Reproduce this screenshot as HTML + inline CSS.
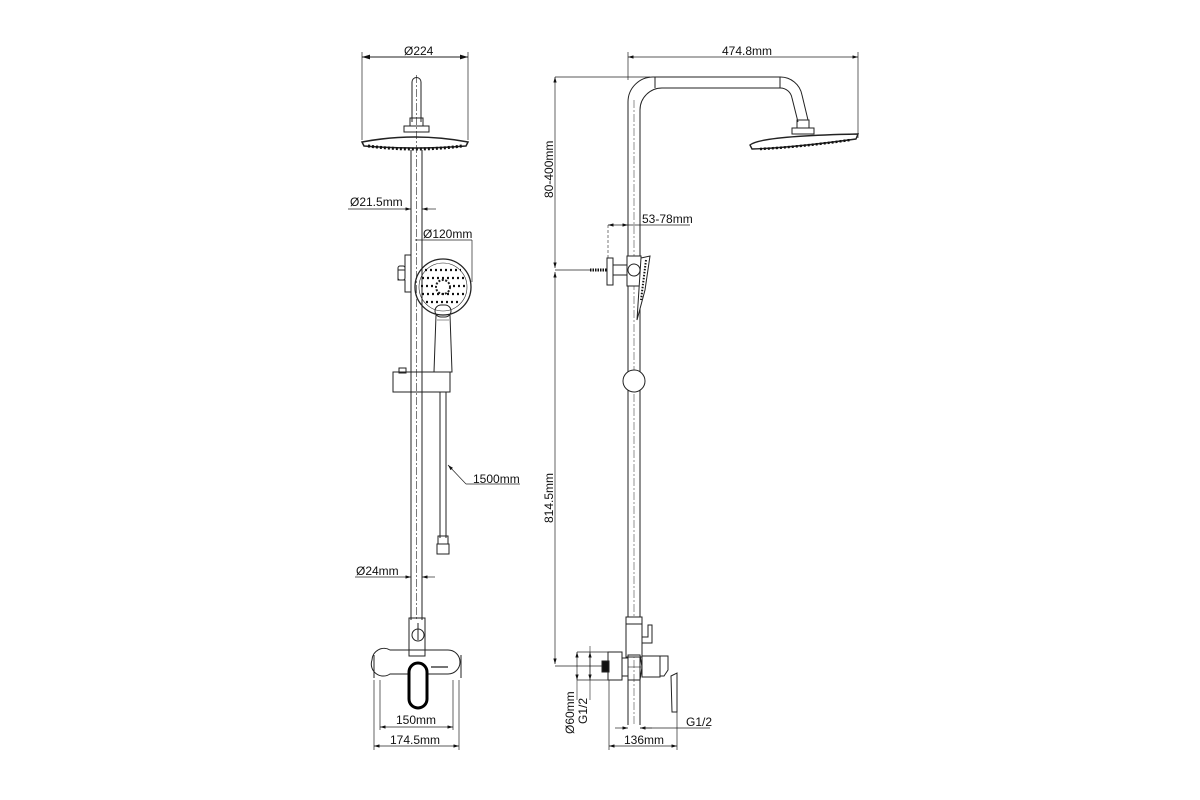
<!DOCTYPE html>
<html><head><meta charset="utf-8"><style>
html,body{margin:0;padding:0;background:#fff;width:1200px;height:800px;overflow:hidden}
svg text{font-family:"Liberation Sans",sans-serif;font-size:12px;fill:#111}
</style></head><body>
<svg width="1200" height="800" viewBox="0 0 1200 800" xmlns="http://www.w3.org/2000/svg">
<defs>
<marker id="a" viewBox="0 0 10 6" refX="10" refY="3" markerWidth="8" markerHeight="5" orient="auto-start-reverse"><path d="M0,0L10,3L0,6z" fill="#111"/></marker>
</defs>
<g fill="none" stroke="#222" stroke-width="1">
<line x1="362" y1="57" x2="468" y2="57" marker-start="url(#a)" marker-end="url(#a)"/>
<line x1="362" y1="52" x2="362" y2="140" stroke-width="0.7"/>
<line x1="468" y1="52" x2="468" y2="140" stroke-width="0.7"/>
<path d="M412,122 V82 a4.5,4.5 0 0 1 9,0 V122"/>
<rect x="410" y="118" width="13" height="8"/>
<rect x="404" y="126" width="25" height="6"/>
<path d="M362,142 Q415,132 468,142 L466,146 Q415,150 364,146 Z" stroke-width="1.5"/>
<path d="M368,146 Q415,152 462,146" stroke="#111" stroke-width="3" stroke-dasharray="2 2"/>
<line x1="416.5" y1="75" x2="416.5" y2="620" stroke-dasharray="8 2 2 2" stroke-width="0.6"/>
<line x1="411" y1="150" x2="411" y2="620"/>
<line x1="422" y1="150" x2="422" y2="620"/>
<line x1="348" y1="209" x2="411" y2="209" stroke-width="0.7" marker-end="url(#a)"/>
<line x1="436" y1="209" x2="422" y2="209" stroke-width="0.7" marker-end="url(#a)"/>
<line x1="415" y1="240" x2="472" y2="240" stroke-width="0.7"/>
<line x1="472" y1="240" x2="472" y2="282" stroke-width="0.7"/>
<path d="M411,255 H405 V270 H398 V280 H405 V292 H411"/>
<rect x="398" y="266" width="7" height="14" rx="2"/>
<circle cx="443" cy="287" r="28" stroke-width="1.3"/>
<circle cx="443" cy="287" r="24" stroke-width="0.6"/>
<circle cx="443" cy="287" r="7" stroke-width="2" stroke-dasharray="2 1.5"/>
<g stroke="#111" stroke-width="2.2" stroke-dasharray="2 3">
<line x1="425" y1="270" x2="461" y2="270"/><line x1="422" y1="278" x2="464" y2="278"/>
<line x1="421" y1="286" x2="433" y2="286"/><line x1="453" y1="286" x2="465" y2="286"/>
<line x1="422" y1="294" x2="464" y2="294"/><line x1="426" y1="302" x2="460" y2="302"/>
</g>
<rect x="435" y="305" width="16" height="12" rx="6"/>
<path d="M436,315 L434,372 H452 L450,315"/>
<line x1="437" y1="320" x2="449" y2="320" stroke-width="0.5"/>
<path d="M393,372 H450 V392 H393 Z"/>
<rect x="399" y="368" width="7" height="5"/>
<line x1="440" y1="392" x2="440" y2="538"/>
<line x1="446" y1="392" x2="446" y2="538"/>
<rect x="438" y="536" width="10" height="8"/>
<rect x="437" y="544" width="12" height="10"/>
<line x1="466" y1="484" x2="448" y2="465" stroke-width="0.7" marker-end="url(#a)"/>
<line x1="466" y1="484" x2="520" y2="484" stroke-width="0.7"/>
<line x1="355" y1="577" x2="411" y2="577" stroke-width="0.7" marker-end="url(#a)"/>
<line x1="435" y1="577" x2="422" y2="577" stroke-width="0.7" marker-end="url(#a)"/>
<rect x="409" y="618" width="16" height="38"/>
<circle cx="418" cy="635" r="6"/>
<line x1="418" y1="623" x2="418" y2="640"/>
<path d="M372,660 a12,12 0 0 1 18,-10 H448 a12,12 0 1 1 0,24 H390 a12,12 0 0 1 -18,-14 Z"/>
<line x1="374" y1="655" x2="374" y2="678"/><line x1="461" y1="655" x2="461" y2="678"/>
<line x1="431" y1="667" x2="448" y2="667" stroke-width="1.2"/>
<rect x="409" y="663" width="18" height="45" rx="9" stroke="#000" stroke-width="3" fill="#fff"/>
<line x1="380" y1="680" x2="380" y2="730" stroke-width="0.7"/>
<line x1="453" y1="680" x2="453" y2="730" stroke-width="0.7"/>
<line x1="380" y1="727" x2="453" y2="727" stroke-width="0.7" marker-start="url(#a)" marker-end="url(#a)"/>
<line x1="374" y1="680" x2="374" y2="750" stroke-width="0.7"/>
<line x1="459" y1="680" x2="459" y2="750" stroke-width="0.7"/>
<line x1="374" y1="746" x2="459" y2="746" stroke-width="0.7" marker-start="url(#a)" marker-end="url(#a)"/>

<line x1="628" y1="57" x2="858" y2="57" stroke-width="0.7" marker-start="url(#a)" marker-end="url(#a)"/>
<line x1="628" y1="52" x2="628" y2="80" stroke-width="0.7"/>
<line x1="858" y1="52" x2="858" y2="138" stroke-width="0.7"/>
<line x1="555" y1="77" x2="650" y2="77" stroke-width="0.7"/>
<path d="M628,725 V102 a25,25 0 0 1 25,-25 H780 a22,22 0 0 1 22,18 L808,120"/>
<path d="M640,725 V110 a22,22 0 0 1 22,-22 H780 a12,12 0 0 1 12,10 L798,122"/>
<line x1="655" y1="77" x2="655" y2="88"/><line x1="780" y1="77" x2="780" y2="88"/>
<line x1="634" y1="100" x2="634" y2="725" stroke-dasharray="8 2 2 2" stroke-width="0.5"/>
<rect x="797" y="120" width="12" height="8"/>
<rect x="792" y="128" width="22" height="6"/>
<path d="M750,145 Q760,136 858,134 L856,139 Q790,148 752,149 Z" stroke-width="1.4"/>
<path d="M760,149 Q800,147 850,140" stroke="#111" stroke-width="2.5" stroke-dasharray="2 2"/>
<line x1="555" y1="77" x2="555" y2="268" stroke-width="0.7" marker-start="url(#a)" marker-end="url(#a)"/>
<line x1="555" y1="272" x2="555" y2="664" stroke-width="0.7" marker-start="url(#a)" marker-end="url(#a)"/>
<line x1="555" y1="666" x2="603" y2="666" stroke-width="0.7"/>
<line x1="608" y1="225" x2="628" y2="225" stroke-width="0.7" marker-start="url(#a)" marker-end="url(#a)"/>
<line x1="628" y1="225" x2="690" y2="225" stroke-width="0.7"/>
<line x1="608" y1="225" x2="608" y2="258" stroke-width="0.6" stroke-dasharray="3 2"/>
<line x1="555" y1="270" x2="590" y2="270" stroke-width="0.7"/>
<line x1="590" y1="270" x2="607" y2="270" stroke="#111" stroke-width="3" stroke-dasharray="1.5 1"/>
<rect x="607" y="258" width="6" height="27"/>
<rect x="613" y="265" width="14" height="10"/>
<rect x="627" y="256" width="14" height="30" fill="#fff"/>
<circle cx="634" cy="270" r="6" fill="#fff"/>
<path d="M641,258 L650,256 L645,290 L637,320 Z" fill="#fff"/>
<line x1="646" y1="260" x2="641" y2="300" stroke="#111" stroke-width="2" stroke-dasharray="1.5 1.5"/>
<circle cx="634" cy="381" r="11" fill="#fff"/>
<rect x="626" y="617" width="16" height="40" fill="#fff"/>
<line x1="626" y1="624" x2="642" y2="624"/>
<path d="M642,637 H648 V625 H652 V643 H642"/>
<!-- flange side view -->
<line x1="577" y1="652" x2="608" y2="652" stroke-width="0.7"/>
<line x1="577" y1="680" x2="608" y2="680" stroke-width="0.7"/>
<rect x="608" y="652" width="14" height="28"/>
<rect x="602" y="661" width="7" height="11" fill="#111"/>
<path d="M622,658 H628 V676 H622 Z"/>
<path d="M628,655 H640 L642,667 L640,680 H628 Z"/>
<line x1="628" y1="667" x2="642" y2="667" stroke-width="0.6"/>
<path d="M642,656 H660 V677 H642 Z"/>
<path d="M660,656 H668 V670 L664,676 H660"/>
<path d="M671,676 L677,673 L677,712 L672,712 Z"/>
<line x1="577" y1="652" x2="577" y2="680" stroke-width="0.7" marker-start="url(#a)" marker-end="url(#a)"/>
<line x1="590" y1="652" x2="590" y2="680" stroke-width="0.7" marker-start="url(#a)" marker-end="url(#a)"/>
<line x1="577" y1="680" x2="577" y2="700" stroke-width="0.6"/>
<line x1="590" y1="646" x2="590" y2="700" stroke-width="0.6"/>
<line x1="609" y1="680" x2="609" y2="750" stroke-width="0.7"/>
<line x1="677" y1="712" x2="677" y2="750" stroke-width="0.7"/>
<line x1="609" y1="746" x2="677" y2="746" stroke-width="0.7" marker-start="url(#a)" marker-end="url(#a)"/>
<line x1="615" y1="728" x2="628" y2="728" stroke-width="0.7" marker-end="url(#a)"/>
<line x1="652" y1="728" x2="640" y2="728" stroke-width="0.7" marker-end="url(#a)"/>
<line x1="640" y1="728" x2="710" y2="728" stroke-width="0.7"/>
</g>
<text x="404" y="55">Ø224</text>
<text x="350" y="206">Ø21.5mm</text>
<text x="423" y="238">Ø120mm</text>
<text x="473" y="483">1500mm</text>
<text x="356" y="575">Ø24mm</text>
<text x="396" y="724">150mm</text>
<text x="390" y="744">174.5mm</text>
<text x="722" y="55">474.8mm</text>
<text x="642" y="223">53-78mm</text>
<text transform="translate(553,198) rotate(-90)">80-400mm</text>
<text transform="translate(553,523) rotate(-90)">814.5mm</text>
<text transform="translate(574,734) rotate(-90)">Ø60mm</text>
<text transform="translate(587,724) rotate(-90)">G1/2</text>
<text x="686" y="726">G1/2</text>
<text x="624" y="744">136mm</text>
</svg>
</body></html>
